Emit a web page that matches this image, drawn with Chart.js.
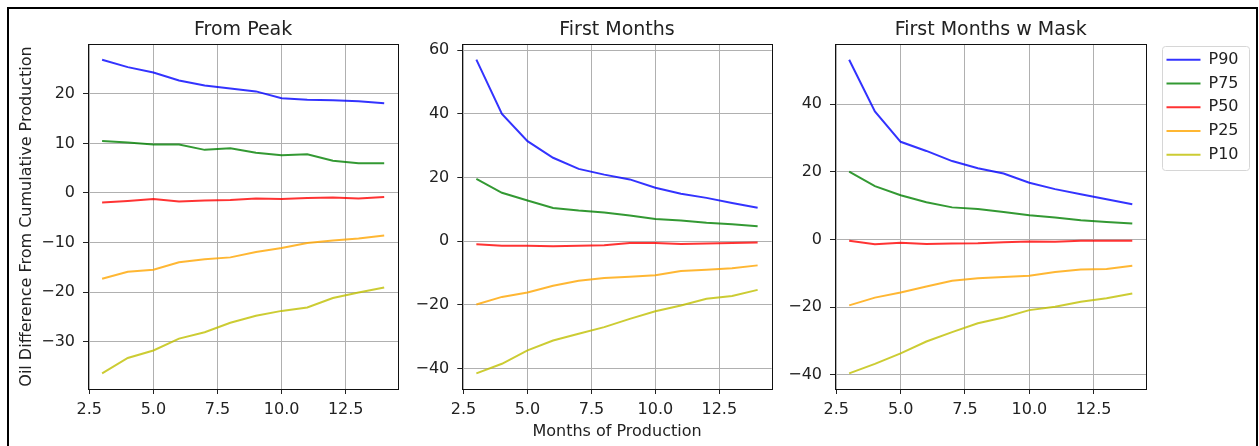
<!DOCTYPE html>
<html>
<head>
<meta charset="utf-8">
<script src="https://cdn.jsdelivr.net/npm/chart.js@4.4.1/dist/chart.umd.min.js"></script>
<style>
  html, body { margin: 0; padding: 0; background: #fff; }
  #page { position: relative; width: 1259px; height: 446px; overflow: hidden; }
  #frame { position: absolute; left: 7px; top: 7px; width: 1251px; height: 470px; border: 2px solid #000; box-sizing: border-box; }
  #page canvas { position: absolute; top: 0; }
</style>
</head>
<body>
<div id="page">
  <div id="frame"></div>
  <canvas id="peakChart" width="410" height="446" style="left:0px"></canvas>
  <canvas id="firstChart" width="370" height="446" style="left:410px"></canvas>
  <canvas id="maskChart" width="479" height="446" style="left:780px"></canvas>
</div>
<script>
// months on the x axis, shared by all three panels
const months = [3, 4, 5, 6, 7, 8, 9, 10, 11, 12, 13, 14];
const xTicks = [2.5, 5, 7.5, 10, 12.5];

const seriesNames = ['P90', 'P75', 'P50', 'P25', 'P10'];
const seriesColors = [
    'rgba(0, 0, 255, 0.8)',
    'rgba(0, 128, 0, 0.8)',
    'rgba(255, 0, 0, 0.8)',
    'rgba(255, 165, 0, 0.8)',
    'rgba(191, 191, 0, 0.8)'
];

// From Peak
const peakP90 = [26.9, 25.4, 24.3, 22.7, 21.7, 21.1, 20.5, 19.1, 18.8, 18.7, 18.5, 18.1];
const peakP75 = [10.5, 10.2, 9.8, 9.8, 8.7, 9.0, 8.1, 7.6, 7.8, 6.5, 6.0, 6.0];
const peakP50 = [-1.9, -1.6, -1.2, -1.7, -1.5, -1.4, -1.1, -1.2, -1.0, -0.9, -1.1, -0.8];
const peakP25 = [-17.3, -15.9, -15.5, -14.0, -13.4, -13.0, -11.9, -11.1, -10.1, -9.6, -9.2, -8.6];
const peakP10 = [-36.4, -33.3, -31.8, -29.4, -28.1, -26.2, -24.8, -23.8, -23.1, -21.2, -20.1, -19.1];
const peakYTicks = [-30, -20, -10, 0, 10, 20];

// First Months
const firstP90 = [57.0, 40.0, 31.4, 26.2, 22.7, 20.9, 19.4, 16.8, 14.9, 13.6, 12.0, 10.5];
const firstP75 = [19.6, 15.2, 12.8, 10.4, 9.6, 9.0, 8.1, 7.0, 6.5, 5.8, 5.3, 4.7];
const firstP50 = [-1.0, -1.4, -1.4, -1.6, -1.4, -1.3, -0.6, -0.6, -0.9, -0.7, -0.6, -0.4];
const firstP25 = [-19.9, -17.5, -16.1, -14.0, -12.4, -11.6, -11.2, -10.7, -9.4, -9.0, -8.5, -7.6];
const firstP10 = [-41.5, -38.5, -34.3, -31.2, -29.1, -27.0, -24.4, -22.0, -20.2, -18.1, -17.2, -15.3];
const firstYTicks = [-40, -20, 0, 20, 40, 60];

// First Months w Mask
const maskP90 = [53.2, 37.9, 28.9, 26.2, 23.2, 21.1, 19.5, 16.8, 14.9, 13.4, 11.9, 10.4];
const maskP75 = [20.1, 15.8, 13.1, 11.0, 9.5, 9.0, 8.1, 7.2, 6.5, 5.7, 5.2, 4.7];
const maskP50 = [-0.4, -1.4, -1.0, -1.3, -1.2, -1.1, -0.8, -0.6, -0.7, -0.4, -0.4, -0.4];
const maskP25 = [-19.5, -17.2, -15.7, -13.9, -12.2, -11.5, -11.1, -10.7, -9.6, -8.9, -8.7, -7.8];
const maskP10 = [-39.6, -36.8, -33.7, -30.2, -27.4, -24.8, -23.1, -20.9, -19.9, -18.4, -17.4, -16.0];
const maskYTicks = [-40, -20, 0, 20, 40];

Chart.defaults.font.family = "'DejaVu Sans', sans-serif";
Chart.defaults.color = '#222';

const TEXT = '#222';
const GRID = '#b0b0b0';

// matplotlib-like autoscale: data limits plus 5% on each side
function paddedRange(values) {
    const lo = Math.min(...values);
    const hi = Math.max(...values);
    const m = (hi - lo) * 0.05;
    return [lo - m, hi + m];
}

const fmtY = v => (v < 0 ? '\u2212' + Math.abs(v) : String(v));
const fmtX = v => v.toFixed(1);

// black box round the plot area (all four spines)
const axesFrame = {
    id: 'axesFrame',
    afterDatasetsDraw(chart) {
        const { ctx, chartArea: a } = chart;
        const l = Math.round(a.left), t = Math.round(a.top);
        const r = Math.round(a.right), b = Math.round(a.bottom);
        ctx.save();
        ctx.strokeStyle = '#111';
        ctx.lineWidth = 1;
        ctx.strokeRect(l + 0.5, t + 0.5, r - l, b - t);
        ctx.restore();
    }
};

// light rounded border round the legend entries
const legendFrame = {
    id: 'legendFrame',
    afterDraw(chart) {
        const boxes = chart.legend && chart.legend.legendHitBoxes;
        if (!boxes || !boxes.length) return;
        const first = boxes[0], last = boxes[boxes.length - 1];
        const left = Math.round(first.left - 4) + 0.5;
        const top = Math.round(first.top - 6) + 0.5;
        const right = Math.round(Math.max(...boxes.map(b => b.left + b.width)) + 10) + 0.5;
        const bottom = Math.round(last.top + last.height + 7) + 0.5;
        const ctx = chart.ctx;
        ctx.save();
        ctx.strokeStyle = '#d6d6d6';
        ctx.lineWidth = 1;
        ctx.beginPath();
        ctx.roundRect(left, top, right - left, bottom - top, 3);
        ctx.stroke();
        ctx.restore();
    }
};

function makePanel(canvasId, title, series, yTicks, layout) {
    const allValues = series.flat();
    const [yMin, yMax] = paddedRange(allValues);
    const [xMin, xMax] = paddedRange(months);

    const datasets = series.map((vals, i) => ({
        label: seriesNames[i],
        data: vals.map((v, j) => ({ x: months[j], y: v })),
        borderColor: seriesColors[i],
        backgroundColor: seriesColors[i],
        borderWidth: 2,
        pointRadius: 0,
        tension: 0,
        fill: false
    }));

    const scales = {
        x: {
            type: 'linear',
            min: xMin,
            max: xMax,
            afterBuildTicks: s => { s.ticks = xTicks.map(v => ({ value: v })); },
            afterFit: s => { s.height = 57; },
            ticks: { callback: fmtX, font: { size: 16 }, color: TEXT, padding: 6.5, maxRotation: 0, autoSkip: false },
            grid: { color: GRID, lineWidth: 1, tickColor: TEXT, tickLength: 5, tickWidth: 1 },
            border: { display: false },
            title: {
                display: !!layout.xTitle,
                text: layout.xTitle || '',
                font: { size: 16 },
                color: TEXT,
                padding: { top: 0, bottom: 5 }
            }
        },
        y: {
            type: 'linear',
            min: yMin,
            max: yMax,
            afterBuildTicks: s => { s.ticks = yTicks.map(v => ({ value: v })); },
            afterFit: s => { s.width = layout.areaLeft; },
            ticks: { callback: fmtY, font: { size: 16 }, color: TEXT, padding: 8 },
            grid: { color: GRID, lineWidth: 1, tickColor: TEXT, tickLength: 5, tickWidth: 1 },
            border: { display: false },
            title: {
                display: !!layout.yTitle,
                text: layout.yTitle || '',
                font: { size: 16 },
                color: TEXT,
                padding: { top: 16.8, bottom: 0 }
            }
        }
    };

    if (layout.legend) {
        // empty axis that only keeps a gap between the plot and the legend
        scales.gap = {
            type: 'linear',
            position: 'right',
            display: true,
            afterFit: s => { s.width = 12.3; },
            ticks: { display: false },
            grid: { display: false },
            border: { display: false }
        };
    }

    return new Chart(document.getElementById(canvasId), {
        type: 'line',
        data: { datasets },
        options: {
            responsive: false,
            animation: false,
            devicePixelRatio: 1,
            layout: { padding: { left: 0, right: layout.padRight, top: 0, bottom: 0 } },
            plugins: {
                title: {
                    display: true,
                    text: title,
                    fullSize: false,
                    font: { size: 19, weight: 'normal' },
                    color: TEXT,
                    padding: { top: 18.2, bottom: 3 }
                },
                legend: layout.legend ? {
                    display: true,
                    position: 'right',
                    align: 'start',
                    fullSize: false,
                    maxWidth: 200,
                    labels: {
                        usePointStyle: true,
                        pointStyle: 'line',
                        pointStyleWidth: 34,
                        padding: 7.75,
                        color: TEXT,
                        font: { size: 16 }
                    }
                } : { display: false },
                tooltip: { enabled: false }
            },
            scales
        },
        plugins: layout.legend ? [axesFrame, legendFrame] : [axesFrame]
    });
}

makePanel('peakChart', 'From Peak',
    [peakP90, peakP75, peakP50, peakP25, peakP10], peakYTicks,
    { areaLeft: 88, padRight: 11.7, yTitle: 'Oil Difference From Cumulative Production' });

makePanel('firstChart', 'First Months',
    [firstP90, firstP75, firstP50, firstP25, firstP10], firstYTicks,
    { areaLeft: 52.3, padRight: 8.3, xTitle: 'Months of Production' });

makePanel('maskChart', 'First Months w Mask',
    [maskP90, maskP75, maskP50, maskP25, maskP10], maskYTicks,
    { areaLeft: 55, padRight: 10.5, legend: true });
</script>
</body>
</html>
